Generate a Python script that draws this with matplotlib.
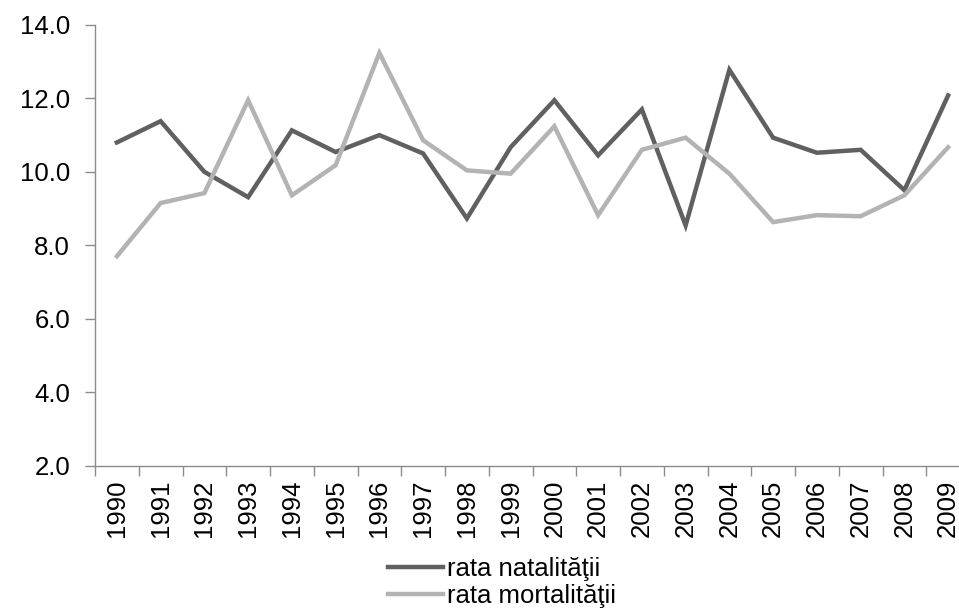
import matplotlib
matplotlib.use("Agg")
import matplotlib.pyplot as plt

years = [str(y) for y in range(1990, 2010)]
natalitate = [10.8, 11.38, 10.0, 9.31, 11.13, 10.54, 11.0, 10.5, 8.73, 10.67,
              11.95, 10.45, 11.7, 8.54, 12.78, 10.93, 10.52, 10.6, 9.5, 12.08]
mortalitate = [7.7, 9.15, 9.42, 11.95, 9.36, 10.18, 13.24, 10.86, 10.04, 9.95,
               11.24, 8.82, 10.6, 10.93, 9.95, 8.63, 8.82, 8.79, 9.36, 10.67]
yticks = [2.0, 4.0, 6.0, 8.0, 10.0, 12.0, 14.0]

plt.rcParams['font.family'] = ['Liberation Sans', 'DejaVu Sans']
FS = 18.5

W, H = 959, 611
fig = plt.figure(figsize=(W / 100, H / 100), dpi=100)
left, right, top, bottom = 95, 970, 25, 465.5
ax = fig.add_axes([left / W, 1 - bottom / H, (right - left) / W, (bottom - top) / H])

x = list(range(len(years)))
l1, = ax.plot(x, natalitate, color='#606060', lw=3.2, solid_joinstyle='miter', label='rata natalităţii')
l2, = ax.plot(x, mortalitate, color='#b3b3b3', lw=3.2, solid_joinstyle='miter', label='rata mortalităţii')

ax.set_xlim(-0.5, len(years) - 0.5)
ax.set_ylim(2, 14)
ax.set_yticks(yticks)
ax.set_yticklabels([f"{v:.1f}" for v in yticks], fontsize=FS)
ax.set_xticks(x)
ax.set_xticklabels(years, rotation=90, fontsize=FS)
ax.set_xticks([i - 0.5 for i in range(len(years) + 1)], minor=True)
ax.tick_params(axis='x', which='major', length=0, pad=10)
ax.tick_params(axis='x', which='minor', length=7, color='#8c8c8c', width=1)
ax.tick_params(axis='y', length=7, color='#8c8c8c', width=1, pad=11)

for s in ['top', 'right']:
    ax.spines[s].set_visible(False)
for s in ['left', 'bottom']:
    ax.spines[s].set_color('#8c8c8c')
    ax.spines[s].set_linewidth(1)

leg = fig.legend(handles=[l1, l2], loc='upper left', bbox_to_anchor=(388 / W, 1 - 557 / H),
                 frameon=False, fontsize=FS, handlelength=2.15, handletextpad=0.15,
                 labelspacing=0.1, borderpad=0, borderaxespad=0)

fig.savefig('out.png', dpi=100)
